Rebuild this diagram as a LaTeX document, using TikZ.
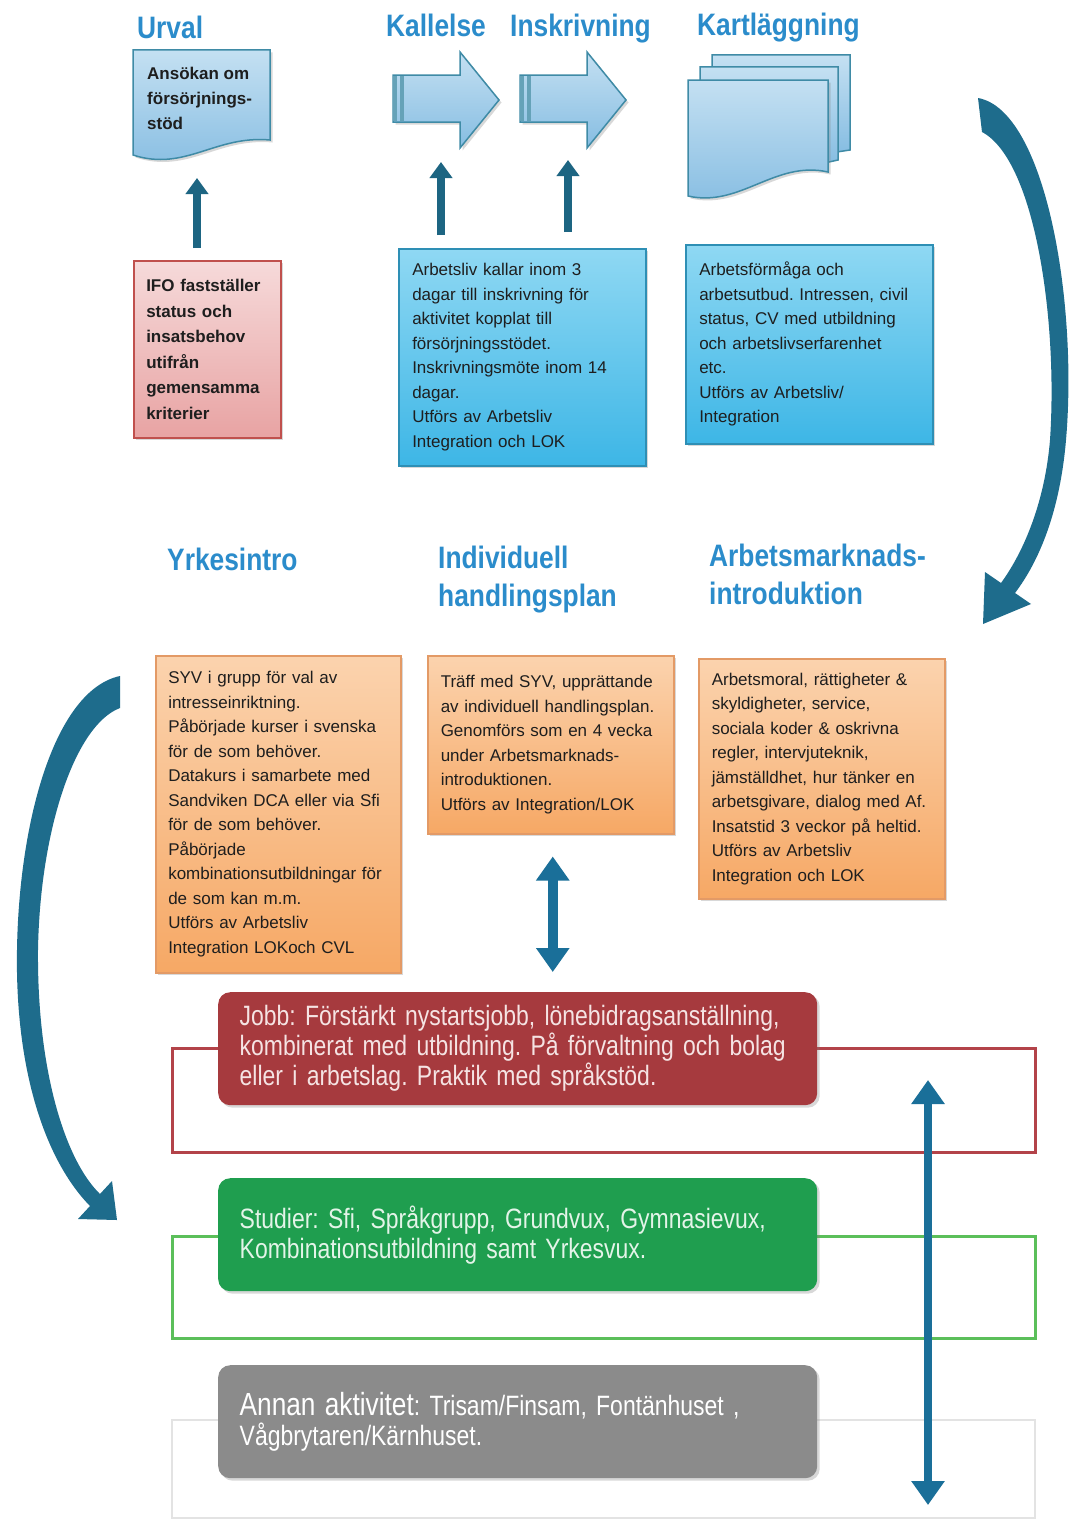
\documentclass[tikz,border=0pt]{standalone}
\usepackage{fontspec}
\setmainfont{Liberation Sans}
\newfontfamily\rubrikfont{Liberation Sans}[FakeStretch=0.85]
\newfontfamily\smalfont{Liberation Sans}[FakeStretch=0.82]
\usetikzlibrary{arrows.meta,shadows,calc}
\definecolor{rubrikbla}{HTML}{2B8CCB}
\definecolor{texgra}{HTML}{1E1E1E}
\definecolor{cyankant}{HTML}{2E8FB5}
\definecolor{cyanljus}{HTML}{8FD8F3}
\definecolor{cyanmork}{HTML}{3DB6E6}
\definecolor{rosakant}{HTML}{C0504D}
\definecolor{rosaljus}{HTML}{F6DADA}
\definecolor{rosamork}{HTML}{E8A3A3}
\definecolor{orangekant}{HTML}{E39A66}
\definecolor{orangeljus}{HTML}{FBD3AE}
\definecolor{orangemork}{HTML}{F6A865}
\definecolor{dokkant}{HTML}{3F8BA6}
\definecolor{dokljus}{HTML}{C4E0F2}
\definecolor{dokmork}{HTML}{86BDE2}
\definecolor{pilmork}{HTML}{1D6582}
\definecolor{bagfarg}{HTML}{1E6C8C}
\definecolor{pilbla}{HTML}{1A6F99}
\definecolor{jobbrod}{HTML}{A63A3E}
\definecolor{jobbtext}{HTML}{F5E3E3}
\definecolor{studiegron}{HTML}{1F9E4F}
\definecolor{studietext}{HTML}{E3F4E8}
\definecolor{annangra}{HTML}{8B8B8B}
\definecolor{ramrod}{HTML}{B34349}
\definecolor{ramgron}{HTML}{5BBF5A}
\definecolor{ramgra}{HTML}{E3E3E3}
\frenchspacing
\begin{document}
\begin{tikzpicture}[x=1pt,y=-1pt]
			\tikzstyle{rubrik}=[anchor=base west,inner sep=0pt,align=left,text=rubrikbla,font=\rubrikfont\bfseries\fontsize{31}{38}\selectfont]
			\tikzstyle{skugga}=[drop shadow={shadow xshift=2.5pt,shadow yshift=-2.5pt,opacity=0.3}]
			\tikzstyle{ruta}=[anchor=north west,inner sep=0pt,line width=1.5pt,align=left,text=texgra,font=\fontsize{17}{24.5}\selectfont,skugga]
			\tikzstyle{blaruta}=[ruta,draw=cyankant,top color=cyanljus,bottom color=cyanmork]
			\tikzstyle{rosaruta}=[ruta,draw=rosakant,top color=rosaljus,bottom color=rosamork,font=\bfseries\fontsize{17}{25.5}\selectfont]
			\tikzstyle{orangeruta}=[ruta,draw=orangekant,top color=orangeljus,bottom color=orangemork]
			\tikzstyle{dokument}=[draw=dokkant,line width=1.5pt,top color=dokljus,bottom color=dokmork]
			\tikzstyle{stapel}=[anchor=north west,rounded corners=12pt,minimum width=599,minimum height=113,inner sep=0pt,text width=556,align=left,font=\smalfont\fontsize{28}{30}\selectfont,skugga]
			\tikzstyle{ram}=[line width=3pt]
			\tikzstyle{uppil}=[line width=8pt,draw=pilmork,-{Triangle[width=22pt,length=16pt]}]
			\tikzstyle{dubbelpil}=[line width=10pt,draw=pilbla,{Triangle[width=32pt,length=24pt]}-{Triangle[width=32pt,length=24pt]}]
			\tikzstyle{bage}=[fill=bagfarg]
			\path[use as bounding box,fill=white] (0,0) rectangle (1069,1520);
			% rubriker (base = sista raden)
			\node[rubrik] (urval) at (137,38) {Urval};
			\node[rubrik] (kallelse) at (386,37) {Kallelse};
			\node[rubrik] (inskrivning) at (510,37) {Inskrivning};
			\node[rubrik] (kartlaggning) at (697,36) {Kartläggning};
			\node[rubrik] (yrkesintro) at (167,570) {Yrkesintro};
			\node[rubrik] (individuell) at (438,606) {Individuell\\handlingsplan};
			\node[rubrik] (arbetsmarknad) at (709,604) {Arbetsmarknads-\\introduktion};
			\filldraw[dokument,skugga] (133,50) -- (270,50) -- (270,140) .. controls (215,135) and (185,172) .. (133,155) -- cycle;
			\node[anchor=base west,inner sep=0pt,align=left,text=texgra,font=\bfseries\fontsize{17}{25}\selectfont] (ansokan) at (147,129) {Ansökan om\\försörjnings-\\stöd};
			\coordinate (ansokanBas) at (197,178);
			\node[rosaruta,minimum width=147,minimum height=177,text width=122] (ifo) at (133,260) {IFO fastställer\\status och\\insatsbehov\\utifrån\\gemensamma\\kriterier};
			\draw[uppil] ($(ifo.north -| ansokanBas)+(0,-12)$) -- (ansokanBas);
			\foreach \x/\namn in {393/kallelsePil,520/inskrPil} {
				\filldraw[dokument,skugga] (\x,75) -- (\x+67,75) -- (\x+67,52) -- (\x+106,100) -- (\x+67,148) -- (\x+67,122) -- (\x,122) -- cycle;
				\fill[dokkant!80] (\x,76) rectangle ++(4,45);
				\fill[dokkant!80] (\x+7,76) rectangle ++(4,45);
				\coordinate (\namn) at (\x+53,100);
			}
			\coordinate (kallelseBas) at (441,162);
			\coordinate (inskrBas) at (568,160);
			\node[blaruta,minimum width=247,minimum height=217,text width=220] (arbetsliv) at (398,248) {Arbetsliv kallar inom 3\\dagar till inskrivning för\\aktivitet kopplat till\\försörjningsstödet.\\Inskrivningsmöte inom 14\\dagar.\\Utförs av Arbetsliv\\Integration och LOK};
			\draw[uppil] ($(arbetsliv.north -| kallelseBas)+(0,-13)$) -- (kallelseBas);
			\draw[uppil] ($(arbetsliv.north -| inskrBas)+(0,-16)$) -- (inskrBas);
			\filldraw[dokument] (712,55) -- (850,55) -- (850,150) -- (830,153) -- (712,153) -- cycle;
			\filldraw[dokument] (700,67) -- (838,67) -- (838,160) -- (820,164) -- (700,164) -- cycle;
			\filldraw[dokument,skugga] (688,80) -- (828,80) -- (828,172) .. controls (775,160) and (740,208) .. (688,196) -- cycle;
			\node[blaruta,minimum width=247,minimum height=199,text width=220] (arbetsformaga) at (685,244) {Arbetsförmåga och\\arbetsutbud. Intressen, civil\\status, CV med utbildning\\och arbetslivserfarenhet\\etc.\\Utförs av Arbetsliv/\\Integration};
			\fill[bage] (978,98) .. controls (1045,110) and (1078,300) .. (1066,440) .. controls (1060,510) and (1040,560) .. (1015,593) -- (1031,604) -- (983,624) -- (985,572) -- (1001,583) .. controls (1025,550) and (1045,500) .. (1050,440) .. controls (1058,320) and (1035,160) .. (982,132) -- cycle;
			\node[orangeruta,minimum width=245,minimum height=317,text width=220] (syv) at (155,655) {SYV i grupp för val av\\intresseinriktning.\\Påbörjade kurser i svenska\\för de som behöver.\\Datakurs i samarbete med\\Sandviken DCA eller via Sfi\\för de som behöver.\\Påbörjade\\kombinationsutbildningar för\\de som kan m.m.\\Utförs av Arbetsliv\\Integration LOKoch CVL};
			\node[orangeruta,minimum width=246,minimum height=178,text width=220] (traff) at (427,655) {Träff med SYV, upprättande\\av individuell handlingsplan.\\Genomförs som en 4 vecka\\under Arbetsmarknads-\\introduktionen.\\Utförs av Integration/LOK};
			\node[orangeruta,minimum width=246,minimum height=240,text width=220] (arbetsmoral) at (698,658) {Arbetsmoral, rättigheter \&\\skyldigheter, service,\\sociala koder \& oskrivna\\regler, intervjuteknik,\\jämställdhet, hur tänker en\\arbetsgivare, dialog med Af.\\Insatstid 3 veckor på heltid.\\Utförs av Arbetsliv\\Integration och LOK};
			\fill[bage] (120,676) .. controls (55,690) and (19,820) .. (17,950) .. controls (15,1070) and (45,1160) .. (90,1206) -- (78,1219) -- (117,1220) -- (112,1181) -- (100,1194) .. controls (65,1160) and (37,1070) .. (38,950) .. controls (40,830) and (75,725) .. (120,708) -- cycle;
			\draw[ram,draw=ramrod] (172,1048) rectangle (1035,1152);
			\draw[ram,draw=ramgron] (172,1236) rectangle (1035,1338);
			\draw[ram,draw=ramgra,line width=2.5pt] (172,1420) rectangle (1035,1518);
			\node[stapel,fill=jobbrod,text=jobbtext] (jobb) at (218,992) {Jobb: Förstärkt nystartsjobb, lönebidragsanställning,\\kombinerat med utbildning. På förvaltning och bolag\\eller i arbetslag. Praktik med språkstöd.};
			\node[stapel,fill=studiegron,text=studietext] (studier) at (218,1178) {Studier: Sfi, Språkgrupp, Grundvux, Gymnasievux,\\Kombinationsutbildning samt Yrkesvux.};
			\node[stapel,fill=annangra,text=white] (annan) at (218,1365) {{\fontsize{32}{30}\selectfont Annan aktivitet}: Trisam/Finsam, Fontänhuset ,\\Vågbrytaren/Kärnhuset.};
			\draw[dubbelpil] ($(traff.south)+(2,22)$) -- ($(jobb.north -| traff.south)+(2,-20)$);
			\coordinate (pilTopp) at (928,1080);
			\coordinate (pilBotten) at (928,1505);
			\draw[dubbelpil,line width=8pt] (pilTopp) -- (pilBotten);
		\end{tikzpicture}
\end{document}
